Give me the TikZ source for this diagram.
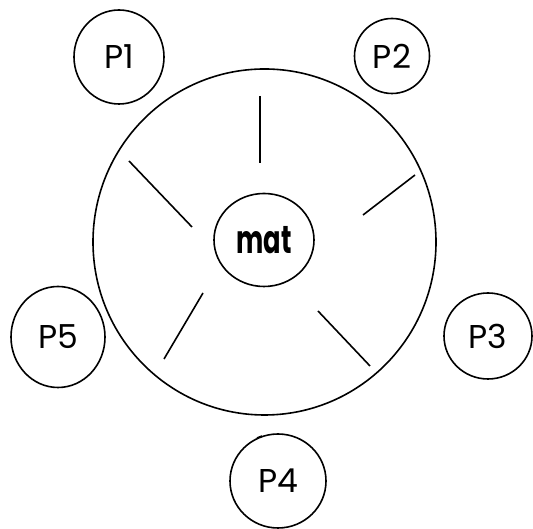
\documentclass[tikz,border=0pt]{standalone}
\usepackage{fontspec}
\setmainfont{Poppins}
\newfontfamily\matfont[FakeStretch=0.66]{Poppins}
\usetikzlibrary{shapes.geometric}
\begin{document}
\begin{tikzpicture}[x=1pt,y=1pt,
  ring/.style={draw,ellipse,line width=1.6pt,inner sep=0pt},
  plabel/.style={ring,font=\fontsize{33}{33}\selectfont},
  stick/.style={line width=1.6pt}]
\useasboundingbox (0,0) rectangle (533,529);
% outer table and the centre node
\node[ring,minimum width=343,minimum height=346] (table) at (264.5,287) {};
\node[ring,minimum width=100,minimum height=93,font=\matfont\fontsize{39}{39}\selectfont\bfseries] (mat) at (264,289) {mat};
% the five outer nodes
\node[plabel,minimum width=90,minimum height=94] (p1) at (119,472) {P1};
\node[plabel,minimum width=75,minimum height=75] (p2) at (392,473) {P2};
\node[plabel,minimum width=88,minimum height=86] (p3) at (488,193) {P3};
\node[plabel,minimum width=96,minimum height=94] (p4) at (278,48) {P4};
\node[plabel,minimum width=94,minimum height=101] (p5) at (58,192) {P5};
% sticks on the table
\coordinate (s1a) at (260,433); \coordinate (s1b) at (260,366);
\coordinate (s2a) at (129,368); \coordinate (s2b) at (192,302);
\coordinate (s3a) at (415,354); \coordinate (s3b) at (363,314);
\coordinate (s4a) at (203,236); \coordinate (s4b) at (164,170);
\coordinate (s5a) at (318,218); \coordinate (s5b) at (370,163);
\coordinate (s6a) at (257,91);  \coordinate (s6b) at (262,93);
\draw[stick] (s1a) -- (s1b);
\draw[stick] (s2a) -- (s2b);
\draw[stick] (s3a) -- (s3b);
\draw[stick] (s4a) -- (s4b);
\draw[stick] (s5a) -- (s5b);
\draw[stick] (s6a) -- (s6b);
\end{tikzpicture}
\end{document}
